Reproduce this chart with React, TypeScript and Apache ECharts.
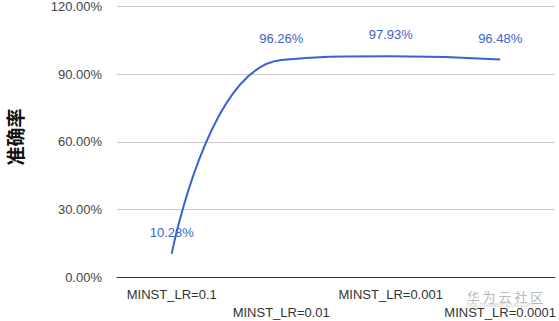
import React, { useEffect, useRef } from "react";
import * as echarts from "echarts";

const categories = ["MINST_LR=0.1", "MINST_LR=0.01", "MINST_LR=0.001", "MINST_LR=0.0001"];
const accuracy = [10.28, 96.26, 97.93, 96.48];
const yTicks = { min: 0, max: 120, interval: 30 };
const yTitle = "准确率";
const watermark = "华 为 云 社 区";
const watermarkUrl = "bbs.huaweicloud.com";

export default function App() {
  const ref = useRef<HTMLDivElement>(null);
  useEffect(() => {
    if (!ref.current) return;
    const chart = echarts.init(ref.current, undefined, { renderer: "svg" });
    chart.setOption({
      animation: false,
      backgroundColor: "#ffffff",
      grid: { left: 117, right: 4, top: 6, bottom: 44, containLabel: false },
      xAxis: {
        type: "category",
        data: categories,
        boundaryGap: true,
        axisLine: { show: true, lineStyle: { color: "#333333", width: 1 } },
        axisTick: { show: false },
        axisLabel: {
          interval: 0,
          margin: 8,
          fontFamily: "Liberation Sans, Arial, sans-serif",
          fontSize: 13,
          color: "#333333",
          lineHeight: 18,
          formatter: (v: string, i: number) => (i % 2 === 1 ? "\n" + v : v),
        },
      },
      yAxis: {
        type: "value",
        min: yTicks.min,
        max: yTicks.max,
        interval: yTicks.interval,
        axisLine: { show: false },
        axisTick: { show: false },
        splitLine: { lineStyle: { color: "#cccccc", width: 1 } },
        axisLabel: {
          margin: 15,
          fontFamily: "Liberation Sans, Arial, sans-serif",
          fontSize: 13,
          color: "#444444",
          formatter: (v: number) => v.toFixed(2) + "%",
        },
      },
      series: [
        {
          type: "line",
          data: accuracy,
          smooth: 0.5,
          showSymbol: true,
          symbol: "circle",
          symbolSize: 0,
          lineStyle: { color: "#3a62d0", width: 2 },
          itemStyle: { color: "#3a62d0" },
          label: {
            show: true,
            position: "top",
            distance: 15,
            fontFamily: "Liberation Sans, Arial, sans-serif",
            fontSize: 13,
            color: "#3d63c9",
            formatter: (p: any) => p.value.toFixed(2) + "%",
          },
        },
      ],
      graphic: [
        {
          type: "text",
          x: 14,
          y: 137,
          rotation: Math.PI / 2,
          style: {
            text: yTitle,
            font: '600 19px "Noto Sans CJK SC", serif',
            fill: "#111111",
            align: "center",
            verticalAlign: "middle",
          },
        },
        {
          type: "text",
          x: 505,
          y: 296,
          style: {
            text: watermark,
            font: '13px "Noto Sans CJK SC", sans-serif',
            fill: "#b8b8b8",
            align: "center",
            verticalAlign: "middle",
          },
        },
        {
          type: "text",
          x: 500,
          y: 304,
          style: {
            text: watermarkUrl,
            font: '7px "Liberation Sans", sans-serif',
            fill: "#d0d0d0",
            align: "center",
            verticalAlign: "middle",
          },
        },
      ],
    });
    return () => chart.dispose();
  }, []);
  return (
    <div
      ref={ref}
      style={{ position: "fixed", left: 0, top: 0, width: 559, height: 321 }}
    />
  );
}
